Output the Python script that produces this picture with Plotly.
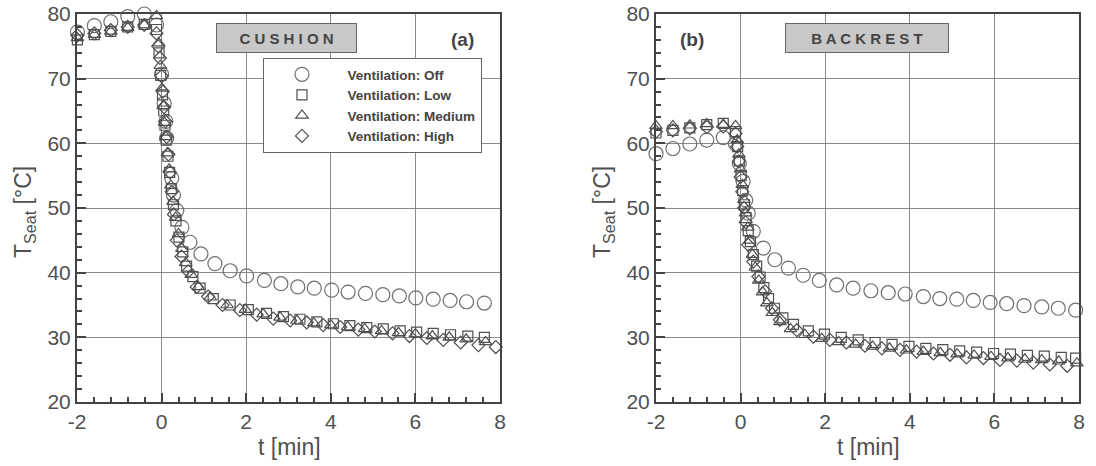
import plotly.graph_objects as go

# ---------------- data ----------------
# CUSHION
t_c_off = [-1.99,-1.59,-1.20,-0.80,-0.41,-0.12,0.00,0.06,0.10,0.12,0.24,0.28,0.36,0.48,0.67,0.93,1.26,1.62,2.01,2.43,2.82,3.22,3.61,4.02,4.41,4.82,5.23,5.62,6.01,6.42,6.82,7.21,7.63]
y_c_off = [77.2,78.2,78.8,79.6,80.0,78.3,70.7,66.2,63.4,60.8,54.6,52.0,49.6,47.0,44.7,42.9,41.4,40.3,39.5,38.8,38.3,37.8,37.6,37.3,37.0,36.8,36.6,36.4,36.1,35.9,35.7,35.5,35.3]

t_c_low = [-1.99,-1.59,-1.20,-0.80,-0.41,-0.12,-0.06,-0.02,0.02,0.05,0.08,0.11,0.15,0.19,0.23,0.28,0.34,0.41,0.50,0.59,0.74,0.91,1.22,1.62,2.05,2.48,2.88,3.27,3.67,4.06,4.45,4.85,5.24,5.64,6.03,6.42,6.83,7.24,7.63]
y_c_low = [76.0,76.8,77.3,78.0,78.4,77.6,74.0,70.5,67.5,65.0,62.8,60.5,58.0,55.5,53.0,50.5,48.0,45.5,43.2,41.0,39.4,37.6,36.0,35.0,34.3,33.7,33.2,32.8,32.4,32.1,31.8,31.5,31.3,31.0,30.8,30.6,30.4,30.2,30.0]

t_c_med = [-1.99,-1.59,-1.20,-0.80,-0.41,-0.12,-0.07,-0.03,0.01,0.04,0.07,0.10,0.14,0.18,0.22,0.27,0.33,0.40,0.48,0.57,0.70,0.87,1.15,1.55,1.98,2.40,2.80,3.20,3.60,4.00,4.40,4.80,5.20,5.60,6.00,6.40,6.80,7.20,7.66]
y_c_med = [76.3,76.8,77.3,77.9,78.3,79.7,75.5,72.0,68.5,65.8,63.2,61.0,58.5,56.0,53.5,51.0,48.5,46.0,43.7,41.5,39.7,37.8,36.2,35.0,34.3,33.6,33.1,32.6,32.2,31.9,31.6,31.3,31.0,30.7,30.5,30.2,30.0,29.7,29.3]

t_c_high = [-1.99,-1.59,-1.20,-0.80,-0.41,-0.12,-0.08,-0.04,0.00,0.03,0.06,0.09,0.12,0.16,0.20,0.24,0.29,0.36,0.47,0.63,0.83,1.10,1.44,1.85,2.25,2.64,3.04,3.43,3.82,4.22,4.65,5.04,5.46,5.86,6.27,6.66,7.07,7.49,7.90]
y_c_high = [76.7,77.0,77.5,78.0,78.3,77.0,75.0,73.2,70.4,68.0,65.6,63.4,61.0,58.3,55.5,52.5,49.0,45.0,42.5,40.2,37.8,36.3,35.0,34.2,33.5,32.9,32.6,32.3,31.9,31.6,31.2,30.9,30.6,30.2,29.9,29.6,29.2,28.8,28.5]

# BACKREST
t_b_off = [-2.00,-1.60,-1.20,-0.80,-0.41,-0.12,-0.03,0.06,0.12,0.18,0.30,0.54,0.81,1.13,1.48,1.86,2.27,2.66,3.08,3.49,3.89,4.32,4.71,5.11,5.50,5.90,6.29,6.70,7.12,7.51,7.92]
y_b_off = [58.4,59.2,59.9,60.5,60.9,59.9,56.9,54.1,51.2,49.2,46.4,43.8,42.0,40.7,39.6,38.8,38.1,37.6,37.2,36.9,36.7,36.3,36.0,35.9,35.7,35.4,35.2,34.9,34.7,34.5,34.2]

t_b_low = [-2.00,-1.60,-1.20,-0.80,-0.41,-0.12,-0.07,-0.03,0.01,0.05,0.09,0.13,0.18,0.23,0.30,0.38,0.46,0.55,0.66,0.80,1.00,1.25,1.60,1.98,2.38,2.78,3.18,3.58,3.98,4.38,4.78,5.18,5.58,5.98,6.38,6.78,7.18,7.58,7.92]
y_b_low = [61.6,62.0,62.4,62.9,63.1,61.8,59.5,57.3,55.0,52.7,50.5,48.5,46.5,44.8,42.8,41.0,39.3,37.7,36.0,34.5,33.0,32.0,31.0,30.5,30.0,29.6,29.2,28.9,28.6,28.3,28.1,27.9,27.7,27.5,27.4,27.2,27.1,26.9,26.8]

t_b_med = [-2.00,-1.60,-1.20,-0.80,-0.41,-0.12,-0.08,-0.04,0.00,0.04,0.08,0.12,0.17,0.22,0.28,0.35,0.43,0.52,0.62,0.75,0.93,1.18,1.52,1.92,2.32,2.72,3.12,3.52,3.92,4.32,4.72,5.12,5.52,5.92,6.32,6.72,7.12,7.52,7.95]
y_b_med = [62.7,62.7,62.8,63.0,62.9,62.7,60.5,58.3,56.0,53.6,51.3,49.2,47.0,45.0,42.8,40.8,38.8,37.0,35.3,33.8,32.4,31.3,30.4,29.8,29.3,28.9,28.6,28.3,28.0,27.8,27.6,27.4,27.2,27.0,26.8,26.6,26.5,26.3,26.0]

t_b_high = [-2.00,-1.60,-1.20,-0.80,-0.41,-0.12,-0.08,-0.04,0.00,0.04,0.08,0.12,0.18,0.30,0.42,0.58,0.74,0.93,1.33,1.72,2.11,2.50,2.94,3.34,3.77,4.16,4.56,4.95,5.34,5.74,6.13,6.53,6.92,7.31,7.72]
y_b_high = [61.8,62.0,62.3,62.5,62.6,61.5,59.5,57.2,54.8,52.5,50.0,47.8,44.3,41.7,39.4,37.1,34.5,32.7,31.1,30.1,29.6,29.2,28.7,28.3,28.05,27.8,27.5,27.3,26.9,26.8,26.5,26.4,26.1,25.8,25.6]

series_names = ["Ventilation: Off", "Ventilation: Low", "Ventilation: Medium", "Ventilation: High"]
symbols = ["circle-open", "square-open", "triangle-up-open", "diamond-open"]
sizes = [14, 10, 11, 10]
colors = ["#6e6e6e", "#505050", "#505050", "#505050"]

cushion = [(t_c_off, y_c_off), (t_c_low, y_c_low), (t_c_med, y_c_med), (t_c_high, y_c_high)]
backrest = [(t_b_off, y_b_off), (t_b_low, y_b_low), (t_b_med, y_b_med), (t_b_high, y_b_high)]

x_ticks = [-2, 0, 2, 4, 6, 8]
x_ticktext = ["-2", "0", "2", "4", "6", "8"]
y_ticks = [20, 30, 40, 50, 60, 70, 80]

FONT = "Liberation Sans, Arial, sans-serif"
# page body margin is removed below, so the figure fills the window exactly
W, H = 1096, 466

def px(x):
    return x / W

def py(y):
    return 1 - y / H

fig = go.Figure()
for i, (t, y) in enumerate(cushion):
    fig.add_trace(go.Scatter(x=t, y=y, mode="markers", name="\u00a0\u00a0" + series_names[i],
                             marker=dict(symbol=symbols[i], size=sizes[i], color=colors[i],
                                         line=dict(width=1.2, color=colors[i])),
                             xaxis="x", yaxis="y", showlegend=True, cliponaxis=False))
for i, (t, y) in enumerate(backrest):
    fig.add_trace(go.Scatter(x=t, y=y, mode="markers", name=series_names[i],
                             marker=dict(symbol=symbols[i], size=sizes[i], color=colors[i],
                                         line=dict(width=1.2, color=colors[i])),
                             xaxis="x2", yaxis="y2", showlegend=False, cliponaxis=False))

def xax(domain, anchor):
    return dict(domain=domain, anchor=anchor, range=[-2, 8], tickvals=x_ticks, ticktext=x_ticktext,
                showline=True, mirror=True, linecolor="#444", linewidth=2,
                ticks="inside", ticklen=9, tickwidth=2, tickcolor="#444",
                minor=dict(ticks="inside", ticklen=5, tickwidth=1.5, tickcolor="#444", dtick=0.4, showgrid=False),
                showgrid=True, gridcolor="#8a8a8a", gridwidth=1, zeroline=False,
                ticklabeloverflow="allow",
                tickfont=dict(family=FONT, size=21, color="#505050"), automargin=False)

def yax(domain, anchor):
    return dict(domain=domain, anchor=anchor, range=[20, 80], tickvals=y_ticks,
                showline=True, mirror=True, linecolor="#444", linewidth=2,
                ticks="inside", ticklen=9, tickwidth=2, tickcolor="#444",
                minor=dict(ticks="inside", ticklen=5, tickwidth=1.5, tickcolor="#444", dtick=2, showgrid=False),
                showgrid=True, gridcolor="#8a8a8a", gridwidth=1, zeroline=False,
                ticklabeloverflow="allow",
                tickfont=dict(family=FONT, size=21, color="#505050"), automargin=False)

ydom = [py(402), py(14)]
fig.update_layout(
    width=W, height=H, margin=dict(l=0, r=0, t=0, b=0),
    paper_bgcolor="white", plot_bgcolor="white",
    xaxis=xax([px(77), px(500)], "y"),
    yaxis=yax(ydom, "x"),
    xaxis2=xax([px(656), px(1079)], "y2"),
    yaxis2=yax(ydom, "x2"),
    showlegend=True,
    legend=dict(x=px(263), y=py(58), xanchor="left", yanchor="top",
                bgcolor="white", bordercolor="#666", borderwidth=1,
                font=dict(family=FONT, size=13.5, color="#444", weight="bold"),
                itemwidth=66, tracegroupgap=0),
)

ann = []
for cx in (289, 868):
    ann.append(dict(text="t [min]", x=px(cx), y=py(447), xref="paper", yref="paper",
                    showarrow=False, font=dict(family=FONT, size=23, color="#505050"),
                    xanchor="center", yanchor="middle"))
for cx in (24, 603):
    ann.append(dict(text="T<sub>Seat</sub> [°C]", x=px(cx), y=py(212), xref="paper", yref="paper",
                    showarrow=False, textangle=-90, font=dict(family=FONT, size=23, color="#505050"),
                    xanchor="center", yanchor="middle"))
ann.append(dict(text="C U S H I O N", x=px(286.5), y=py(38.5), xref="paper", yref="paper",
                showarrow=False, font=dict(family=FONT, size=15, color="#444", weight="bold"),
                bgcolor="#c8c8c8", bordercolor="#666", borderwidth=1, borderpad=2,
                width=135, height=24, xanchor="center", yanchor="middle"))
ann.append(dict(text="B A C K R E S T", x=px(867), y=py(38.5), xref="paper", yref="paper",
                showarrow=False, font=dict(family=FONT, size=15, color="#444", weight="bold"),
                bgcolor="#c8c8c8", bordercolor="#666", borderwidth=1, borderpad=2,
                width=158, height=24, xanchor="center", yanchor="middle"))
ann.append(dict(text="(a)", x=px(462), y=py(40), xref="paper", yref="paper",
                showarrow=False, font=dict(family=FONT, size=19, color="#444", weight="bold"),
                xanchor="center", yanchor="middle"))
ann.append(dict(text="(b)", x=px(692), y=py(40), xref="paper", yref="paper",
                showarrow=False, font=dict(family=FONT, size=19, color="#444", weight="bold"),
                xanchor="center", yanchor="middle"))
fig.update_layout(annotations=ann)

fig.write_html("out.html", config=dict(displayModeBar=False),
               post_script="document.body.style.margin='0px';")
